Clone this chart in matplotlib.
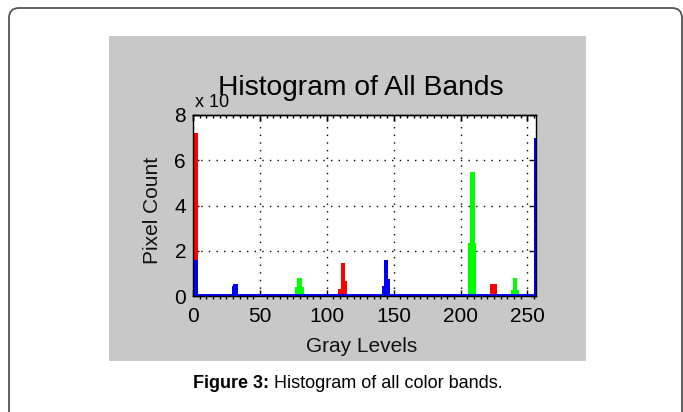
import matplotlib
matplotlib.use("Agg")
import matplotlib.pyplot as plt
from matplotlib.patches import FancyBboxPatch, Rectangle
import numpy as np

plt.rcParams['font.family'] = ['Liberation Sans', 'DejaVu Sans']

# ---- data (gray level bins, counts in units of 10^4) ----
red_left = [1.0, 108.5, 110.5, 113.7, 222.3]
red_width = [2.6, 2.0, 3.2, 1.3, 4.9]
red_height = [7.2, 0.3, 1.45, 0.66, 0.53]

green_left = [76.0, 78.0, 205.6, 207.3, 238.0, 239.3]
green_width = [7.0, 3.8, 6.0, 3.2, 6.0, 2.9]
green_height = [0.38, 0.81, 2.36, 5.49, 0.27, 0.81]

blue_left = [1.0, 29.0, 30.2, 141.0, 142.5, 146.0, 254.6]
blue_width = [2.6, 1.2, 3.8, 1.5, 3.5, 1.5, 1.4]
blue_height = [1.59, 0.42, 0.53, 0.44, 1.59, 0.74, 6.98]

x_ticks = [0, 50, 100, 150, 200, 250]
y_ticks = [0, 2, 4, 6, 8]

W, H = 683, 412
fig = plt.figure(figsize=(W / 100, H / 100), dpi=100)
fig.patch.set_facecolor('white')

# outer rounded frame (in pixel-inches)
frame = FancyBboxPatch((0.09, -0.6), 6.73, 4.12 - 0.08 + 0.6,
                       boxstyle="round,pad=0,rounding_size=0.1",
                       transform=fig.dpi_scale_trans, facecolor='none',
                       edgecolor='#555555', linewidth=1.3, zorder=-2)
fig.patches.append(frame)

# gray panel
panel = Rectangle((109 / W, (H - 361) / H), 477 / W, 325 / H,
                  transform=fig.transFigure, facecolor='#c8c8c8',
                  edgecolor='none', zorder=-1)
fig.patches.append(panel)

ax = fig.add_axes([193 / W, (H - 296) / H, 342.5 / W, 181 / H])
ax.set_zorder(2)
ax.set_facecolor('white')

ax.bar(red_left, red_height, width=red_width, align='edge', color='#ff0000',
       edgecolor='none', zorder=3)
ax.bar(green_left, green_height, width=green_width, align='edge', color='#00ff00',
       edgecolor='none', zorder=3)
ax.bar(blue_left, blue_height, width=blue_width, align='edge', color='#0000ff',
       edgecolor='none', zorder=3)
ax.axhline(0, color='#0000ff', linewidth=2.8, zorder=4)

ax.set_xlim(0, 256)
ax.set_ylim(0, 8)
ax.set_xticks(x_ticks)
ax.set_yticks(y_ticks)
ax.set_xticks(np.arange(0, 257, 5), minor=True)

ax.grid(True, which='major', color='black', linestyle=(0, (1, 4.5)), linewidth=1.0, zorder=1)

for s in ax.spines.values():
    s.set_color('black')
    s.set_linewidth(1.0)
    s.set_zorder(5)

ax.tick_params(axis='both', which='major', direction='in', length=4, width=1,
               labelsize=15, colors='black', top=True, right=True)
ax.tick_params(axis='x', which='major', pad=8)
ax.tick_params(axis='y', which='major', pad=5)
ax.tick_params(axis='x', which='minor', direction='out', length=2.5, width=1,
               top=False, bottom=True)

# top edge: small inward ruler ticks
sec = ax.secondary_xaxis('top')
sec.set_xticks(np.arange(0, 257, 5), minor=True)
sec.set_xticks(x_ticks)
sec.tick_params(which='both', direction='in', labeltop=False, labelbottom=False)
sec.tick_params(which='minor', length=2.5, width=1)
sec.tick_params(which='major', length=4, width=1)
sec.spines['top'].set_linewidth(1.0)

fig.text(361 / W, (H - 95) / H, 'Histogram of All Bands', ha='center', va='baseline',
         fontsize=20.3, color='black', zorder=5)
fig.text(195 / W, (H - 107) / H, 'x 10', ha='left', va='baseline', fontsize=13, color='black',
         zorder=4)
fig.text(361.5 / W, (H - 352) / H, 'Gray Levels', ha='center', va='baseline',
         fontsize=15, color='#111111')
fig.text(152 / W, (H - 210) / H, 'Pixel Count', ha='center', va='center', rotation=90,
         fontsize=15, color='#111111')

# caption: bold part followed by regular part, centred on the panel
renderer = fig.canvas.get_renderer()
cap_fs = 13
t1 = fig.text(0, (H - 388) / H, 'Figure 3:', ha='left', va='baseline', fontsize=cap_fs,
              fontweight='bold', color='black')
t2 = fig.text(0, (H - 388) / H, ' Histogram of all color bands.', ha='left', va='baseline',
              fontsize=cap_fs, color='black')
w1 = t1.get_window_extent(renderer).width
w2 = t2.get_window_extent(renderer).width
x0 = 347.5 - (w1 + w2) / 2
t1.set_x(x0 / W)
t2.set_x((x0 + w1) / W)

fig.savefig('out.png', dpi=100, facecolor='white')
